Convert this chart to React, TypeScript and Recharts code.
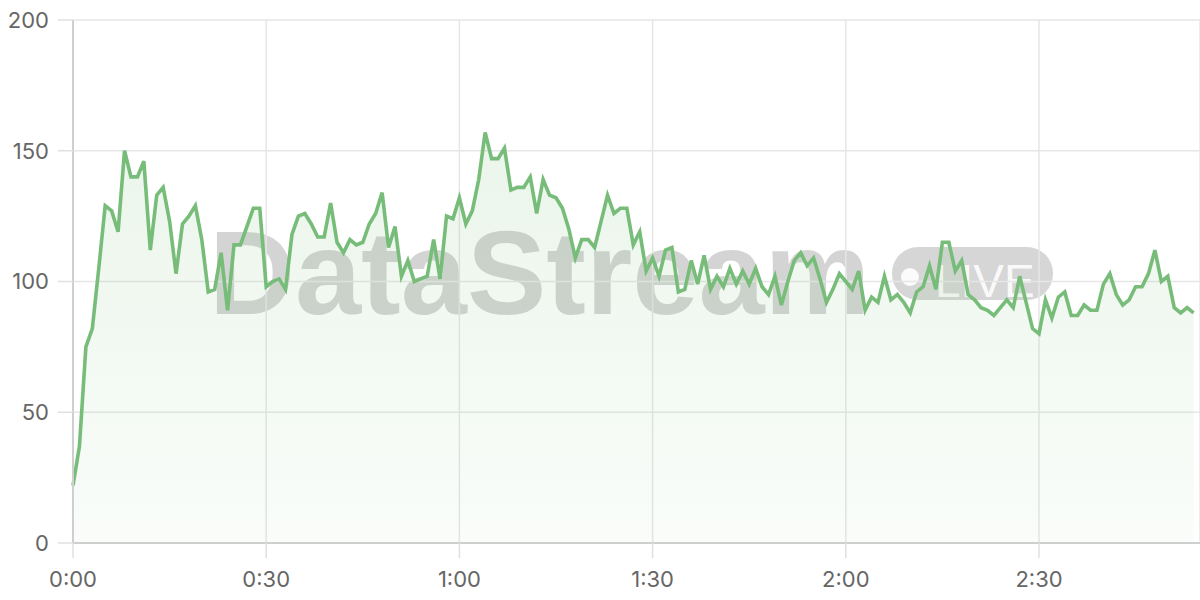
import React from 'react';
import { AreaChart, Area, XAxis, YAxis, CartesianGrid } from 'recharts';

// one reading per second, 0:00 .. 2:54
const values: number[] = [
  22, 37, 75, 82, 105, 129, 127, 119, 150, 140,
  140, 146, 112, 133, 136, 123, 103, 122, 125, 129,
  116, 96, 97, 111, 89, 114, 114, 121, 128, 128,
  98, 100, 101, 97, 118, 125, 126, 122, 117, 117,
  130, 115, 111, 116, 114, 115, 122, 126, 134, 113,
  121, 102, 108, 100, 101, 102, 116, 101, 125, 124,
  132, 122, 127, 139, 157, 147, 147, 151, 135, 136,
  136, 140, 126, 139, 133, 132, 128, 120, 109, 116,
  116, 113, 123, 133, 126, 128, 128, 114, 119, 104,
  109, 102, 112, 113, 96, 97, 108, 99, 110, 97,
  102, 98, 105, 99, 104, 99, 105, 98, 95, 102,
  91, 100, 108, 111, 106, 109, 101, 92, 97, 103,
  100, 97, 104, 89, 94, 92, 102, 93, 95, 92,
  88, 96, 98, 106, 97, 115, 115, 104, 108, 95,
  93, 90, 89, 87, 90, 93, 90, 102, 92, 82,
  80, 93, 86, 94, 96, 87, 87, 91, 89, 89,
  99, 103, 95, 91, 93, 98, 98, 103, 112, 100,
  102, 90, 88, 90, 88,
];

const xTicks = [0, 30, 60, 90, 120, 150];
const yTicks = [0, 50, 100, 150, 200];

const data = values.map((v, i) => ({ t: i, v }));

const fmtTime = (s: number): string => {
  const m = Math.floor(s / 60);
  const sec = s % 60;
  return `${m}:${String(sec).padStart(2, '0')}`;
};

const tickStyle = { fill: '#666', fontSize: 22, fontFamily: 'Inter, sans-serif' };

const Watermark = () => (
  <svg width={1200} height={600} style={{ position: 'absolute', left: 0, top: 0 }}>
    <text
      x={209}
      y={314}
      fontFamily="'Liberation Sans', Arial, sans-serif"
      fontWeight="bold"
      fontSize={119}
      fill="#000"
      fillOpacity={0.17}
    >
      DataStream
    </text>
    <rect x={892} y={247} width={161} height={53} rx={26} fill="#000" fillOpacity={0.16} />
    <circle cx={910} cy={277} r={9} fill="#fff" fillOpacity={0.9} />
    <text
      x={935}
      y={297}
      fontFamily="'Liberation Sans', Arial, sans-serif"
      fontSize={46}
      fill="#fff"
      fillOpacity={0.9}
    >
      LIVE
    </text>
  </svg>
);

const App: React.FC = () => {
  return (
    <div style={{ position: 'absolute', left: 0, top: 0, width: 1200, height: 600, background: '#fff' }}>
      <Watermark />
      <div style={{ position: 'absolute', left: 0, top: 0 }}>
        <AreaChart width={1200} height={600} data={data} margin={{ top: 20, right: 0, bottom: 0, left: 0 }}>
          <defs>
            <linearGradient id="areaFill" x1="0" y1="0" x2="0" y2="1">
              <stop offset="0%" stopColor="#7cc07e" stopOpacity={0.26} />
              <stop offset="100%" stopColor="#7cc07e" stopOpacity={0.07} />
            </linearGradient>
          </defs>
          <CartesianGrid stroke="#e6e6e6" strokeWidth={1.5} />
          <XAxis
            dataKey="t"
            type="number"
            domain={[0, 175]}
            ticks={xTicks}
            interval={0}
            tickFormatter={fmtTime}
            height={57}
            tickSize={15}
            tickMargin={13}
            tick={tickStyle}
            tickLine={{ stroke: '#e0e0e0', strokeWidth: 1.5 }}
            axisLine={{ stroke: '#cfcfcf', strokeWidth: 2 }}
          />
          <YAxis
            type="number"
            domain={[0, 200]}
            ticks={yTicks}
            interval={0}
            width={73}
            tickSize={15}
            tickMargin={9}
            tick={tickStyle}
            tickLine={{ stroke: '#e0e0e0', strokeWidth: 1.5 }}
            axisLine={{ stroke: '#cfcfcf', strokeWidth: 2 }}
          />
          <Area
            type="linear"
            dataKey="v"
            stroke="#77bd79"
            strokeWidth={3.6}
            fill="url(#areaFill)"
            dot={false}
            activeDot={false}
            isAnimationActive={false}
          />
        </AreaChart>
      </div>
    </div>
  );
};

export default App;
